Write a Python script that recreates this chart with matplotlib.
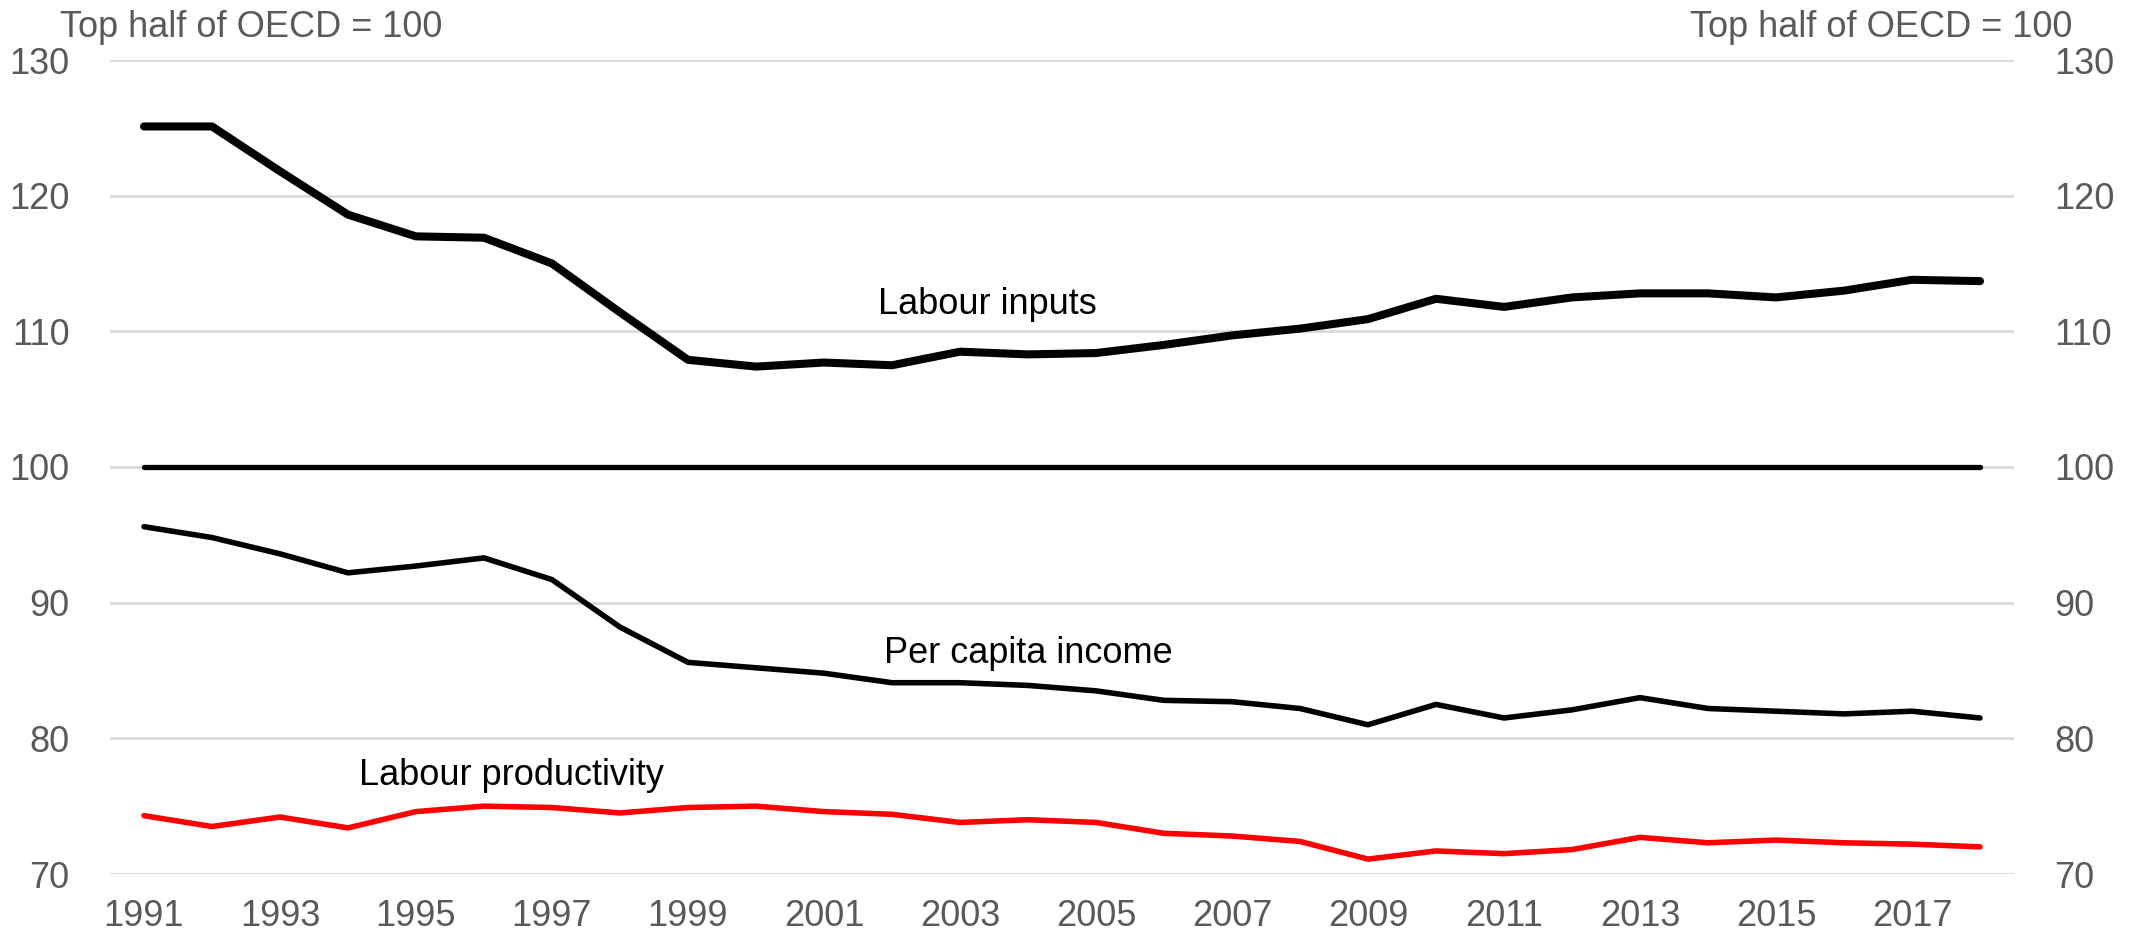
import matplotlib
matplotlib.use("Agg")
import matplotlib.pyplot as plt

years = list(range(1991, 2019))
labour_inputs = [125.1, 125.1, 121.8, 118.6, 117.0, 116.9, 115.0, 111.4, 107.9, 107.4,
                 107.7, 107.5, 108.5, 108.3, 108.4, 109.0, 109.7, 110.2, 110.9, 112.4,
                 111.8, 112.5, 112.8, 112.8, 112.5, 113.0, 113.8, 113.7]
per_capita_income = [95.6, 94.8, 93.6, 92.2, 92.7, 93.3, 91.7, 88.2, 85.6, 85.2,
                     84.8, 84.1, 84.1, 83.9, 83.5, 82.8, 82.7, 82.2, 81.0, 82.5,
                     81.5, 82.1, 83.0, 82.2, 82.0, 81.8, 82.0, 81.5]
labour_productivity = [74.3, 73.5, 74.2, 73.4, 74.6, 75.0, 74.9, 74.5, 74.9, 75.0,
                       74.6, 74.4, 73.8, 74.0, 73.8, 73.0, 72.8, 72.4, 71.1, 71.7,
                       71.5, 71.8, 72.7, 72.3, 72.5, 72.3, 72.2, 72.0]
reference = [100] * len(years)

yticks = [70, 80, 90, 100, 110, 120, 130]
xticks = list(range(1991, 2019, 2))
unit_label = "Top half of OECD = 100"

plt.rcParams['font.family'] = ['Liberation Sans', 'DejaVu Sans']
FS = 26
GREY = '#595959'

fig = plt.figure(figsize=(21.34, 9.35), dpi=100)
ax = fig.add_axes([110/2134, 1-874/935, (2014-110)/2134, (874-60)/935])

for y in yticks:
    ax.axhline(y, color='#d9d9d9', lw=2.0, zorder=0)

ax.plot(years, reference, color='black', lw=3.8, solid_capstyle='round', zorder=2)
ax.plot(years, labour_inputs, color='black', lw=5.8, solid_capstyle='round', zorder=3)
ax.plot(years, per_capita_income, color='black', lw=4.0, solid_capstyle='round', zorder=3)
ax.plot(years, labour_productivity, color='#ff0000', lw=4.0, solid_capstyle='round', zorder=3)

ax.text(2003.4, 111.3, "Labour inputs", fontsize=FS, ha='center', va='baseline', color='black')
ax.text(2004.0, 85.55, "Per capita income", fontsize=FS, ha='center', va='baseline', color='black')
ax.text(1996.4, 76.55, "Labour productivity", fontsize=FS, ha='center', va='baseline', color='black')

ax.set_xlim(1990.5, 2018.5)
ax.set_ylim(70, 130)
ax.set_xticks(xticks)
ax.set_xticklabels([str(x) for x in xticks])
ax.set_yticks(yticks)
ax.tick_params(axis='both', length=0, labelsize=FS, labelcolor=GREY)
ax.tick_params(axis='y', pad=29, labelright=True, right=False)
ax.tick_params(axis='x', pad=18)
for s in ax.spines.values():
    s.set_visible(False)

fig.text(60/2134, 1-37/935, unit_label, fontsize=FS, color=GREY, ha='left', va='baseline')
fig.text(2072/2134, 1-37/935, unit_label, fontsize=FS, color=GREY, ha='right', va='baseline')

fig.savefig("out.png", dpi=100)
